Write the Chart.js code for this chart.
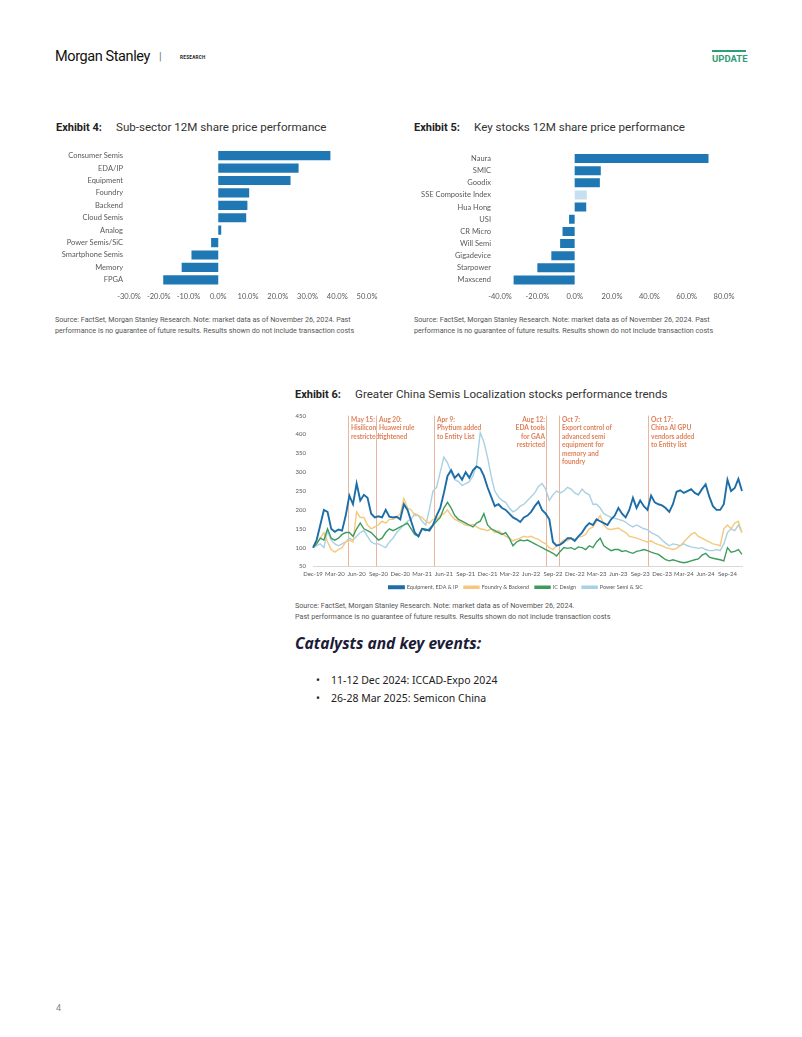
<!DOCTYPE html>
<html>
<head>
<meta charset="utf-8">
<script src="https://cdn.jsdelivr.net/npm/chart.js@4.4.0/dist/chart.umd.min.js"></script>
<style>
  body { margin: 0; background: #fff; width: 802px; height: 1037px; position: relative; overflow: hidden; font-family: Roboto, sans-serif; }
  .abs { position: absolute; white-space: nowrap; }
  .title { font-size: 11.6px; color: #333; line-height: 16px; }
  .title b { color: #222; font-size: 11px; }
  .src { font-size: 7.2px; color: #555; line-height: 10.5px; }
  canvas { position: absolute; }
</style>
</head>
<body>
<!-- header -->
<div class="abs" style="left:55px;top:48px;font-size:14.5px;color:#111;letter-spacing:-0.4px;">Morgan Stanley</div>
<div class="abs" style="left:159px;top:50px;font-size:11px;color:#777;">|</div>
<div class="abs" style="left:180px;top:55px;font-size:4.6px;font-weight:bold;letter-spacing:0.3px;color:#222;">RESEARCH</div>
<div class="abs" style="left:712px;top:50px;width:34px;height:2px;background:#2f9e74;"></div>
<div class="abs" style="left:712px;top:53px;font-size:9.5px;font-weight:bold;color:#2f9e74;">UPDATE</div>

<!-- exhibit 4 -->
<div class="abs title" style="left:56px;top:119px;"><b>Exhibit 4:</b></div>
<div class="abs title" style="left:116px;top:119px;">Sub-sector 12M share price performance</div>
<canvas id="ex4" width="330" height="172" style="left:55px;top:139px;"></canvas>
<div class="abs src" style="left:55px;top:315px;">Source: FactSet, Morgan Stanley Research. Note: market data as of November 26, 2024. Past<br>performance is no guarantee of future results. Results shown do not include transaction costs</div>

<!-- exhibit 5 -->
<div class="abs title" style="left:414px;top:119px;"><b>Exhibit 5:</b></div>
<div class="abs title" style="left:474px;top:119px;">Key stocks 12M share price performance</div>
<canvas id="ex5" width="335" height="172" style="left:414px;top:139px;"></canvas>
<div class="abs src" style="left:414px;top:315px;">Source: FactSet, Morgan Stanley Research. Note: market data as of November 26, 2024. Past<br>performance is no guarantee of future results. Results shown do not include transaction costs</div>

<!-- exhibit 6 -->
<div class="abs title" style="left:295px;top:386px;"><b>Exhibit 6:</b></div>
<div class="abs title" style="left:355px;top:386px;">Greater China Semis Localization stocks performance trends</div>
<canvas id="ex6" width="470" height="195" style="left:290px;top:405px;"></canvas>
<div class="abs src" style="left:295px;top:601px;">Source: FactSet, Morgan Stanley Research. Note: market data as of November 26, 2024.<br>Past performance is no guarantee of future results. Results shown do not include transaction costs</div>

<!-- catalysts -->
<div class="abs" style="left:295px;top:632px;font-family:'Noto Sans';font-weight:bold;font-style:italic;font-size:15.6px;color:#1c1c38;">Catalysts and key events:</div>
<div class="abs" style="left:316px;top:673px;font-family:'Noto Sans';font-size:10.5px;color:#222;">•</div>
<div class="abs" style="left:331px;top:673px;font-family:'Noto Sans';font-size:10.5px;color:#222;">11-12 Dec 2024: ICCAD-Expo 2024</div>
<div class="abs" style="left:316px;top:691px;font-family:'Noto Sans';font-size:10.5px;color:#222;">•</div>
<div class="abs" style="left:331px;top:691px;font-family:'Noto Sans';font-size:10.5px;color:#222;">26-28 Mar 2025: Semicon China</div>

<div class="abs" style="left:56px;top:1003px;font-size:9px;color:#888;">4</div>

<script>
// Exhibit 4 data
const subSectors = ['Consumer Semis', 'EDA/IP', 'Equipment', 'Foundry', 'Backend', 'Cloud Semis', 'Analog', 'Power Semis/SiC', 'Smartphone Semis', 'Memory', 'FPGA']
const subSectorPerf = [37.7, 27.0, 24.3, 10.4, 9.8, 9.4, 1.0, -2.4, -9.0, -12.3, -18.5]

// Exhibit 5 data
const keyStocks = ['Naura', 'SMIC', 'Goodix', 'SSE Composite Index', 'Hua Hong', 'USI', 'CR Micro', 'Will Semi', 'Gigadevice', 'Starpower', 'Maxscend']
const keyStockPerf = [71.7, 14.0, 13.5, 6.5, 6.2, -3.0, -6.5, -7.8, -12.5, -20.0, -32.7]

// Exhibit 6 data (half-monthly, Dec-19 = 100)
const quarterLabels = ['Dec-19', 'Mar-20', 'Jun-20', 'Sep-20', 'Dec-20', 'Mar-21', 'Jun-21', 'Sep-21', 'Dec-21', 'Mar-22', 'Jun-22', 'Sep-22', 'Dec-22', 'Mar-23', 'Jun-23', 'Sep-23', 'Dec-23', 'Mar-24', 'Jun-24', 'Sep-24']
const equipment = [100, 120, 160, 200, 195, 150, 142, 148, 145, 185,
  238, 215, 270, 225, 240, 232, 190, 180, 183, 180,
  200, 182, 180, 182, 175, 215, 200, 170, 140, 130,
  150, 148, 145, 160, 185, 205, 245, 290, 305, 285,
  295, 280, 300, 285, 305, 315, 310, 290, 260, 235,
  210, 215, 205, 200, 190, 180, 175, 168, 180, 185,
  195, 210, 222, 200, 190, 175, 115, 105, 108, 115,
  125, 125, 118, 130, 140, 155, 165, 160, 175, 170,
  165, 160, 175, 185, 205, 190, 180, 200, 232, 205,
  225, 210, 200, 238, 220, 215, 212, 205, 195, 215,
  248, 252, 245, 250, 255, 245, 240, 255, 268, 235,
  210, 200, 200, 215, 280, 250, 258, 282, 250]
const foundry = [100, 110, 125, 140, 115, 95, 88, 95, 100, 115,
  120, 115, 195, 180, 180, 160, 150, 155, 160, 170,
  165, 175, 175, 180, 190, 230, 205, 200, 185, 185,
  180, 170, 165, 175, 175, 185, 190, 200, 185, 175,
  170, 165, 160, 158, 162, 155, 150, 148, 145, 150,
  140, 145, 138, 130, 125, 118, 122, 125, 130, 128,
  130, 125, 122, 115, 110, 100, 95, 105, 112, 120,
  118, 125, 122, 128, 130, 135, 150, 155, 170, 185,
  160, 150, 148, 150, 152, 145, 140, 130, 128, 125,
  122, 118, 115, 118, 112, 108, 105, 100, 98, 95,
  98, 105, 115, 125, 135, 140, 130, 125, 120, 115,
  110, 108, 105, 150, 160, 150, 165, 170, 140]
const icDesign = [100, 110, 125, 120, 150, 125, 120, 125, 135, 140,
  140, 130, 150, 165, 150, 145, 140, 130, 120, 125,
  140, 150, 145, 150, 155, 160, 165, 150, 135, 130,
  150, 145, 150, 160, 170, 180, 205, 220, 205, 185,
  175, 170, 165, 160, 155, 165, 170, 190, 160, 150,
  145, 140, 135, 140, 125, 105, 115, 120, 118, 120,
  115, 110, 105, 100, 95, 90, 85, 78, 90, 100,
  98, 100, 95, 102, 100, 95, 105, 100, 115, 125,
  105, 98, 92, 95, 95, 90, 92, 88, 85, 90,
  92, 95, 92, 88, 85, 82, 75, 68, 65, 68,
  65, 62, 60, 62, 65, 68, 70, 80, 85, 75,
  72, 70, 68, 65, 100, 88, 90, 95, 82]
const powerSemi = [100, 105, 110, 100, 145, 120, 110, 105, 110, 115,
  125, 120, 130, 140, 145, 130, 115, 110, 110, 105,
  100, 115, 125, 140, 150, 160, 170, 175, 190, 185,
  170, 160, 200, 250, 260, 300, 340, 325, 300, 280,
  275, 265, 270, 275, 290, 320, 405, 380, 340, 290,
  250, 235, 225, 220, 205, 195, 200, 210, 215, 225,
  235, 245, 262, 270, 255, 225, 240, 250, 245, 250,
  260, 255, 245, 240, 255, 245, 240, 215, 215, 205,
  190, 185, 180, 178, 175, 172, 168, 160, 155, 160,
  155, 150, 148, 140, 135, 130, 120, 112, 105, 110,
  108, 105, 110, 105, 102, 100, 98, 100, 95, 92,
  92, 95, 92, 110, 140, 150, 145, 160, 140]

// policy events, positioned on the category axis
const eventAt = [9.7, 17.3, 33.3, 64.1, 67.8, 92.1]
const eventText = [
  ['May 15:', 'Hisilicon', 'restricted'],
  ['Aug 20:', 'Huawei rule', 'tightened'],
  ['Apr 9:', 'Phytium added', 'to Entity List'],
  ['Aug 12:', 'EDA tools', 'for GAA', 'restricted'],
  ['Oct 7:', 'Export control of', 'advanced semi', 'equipment for', 'memory and', 'foundry'],
  ['Oct 17:', 'China AI GPU', 'vendors added', 'to Entity list']
]
const eventTextLeft = [false, false, false, true, false, false]

const barBlue = '#1f78b4'
const tickFont = { family: 'Lato', size: 7.5 }

function barConfig(labels, values, colors, min, max, step, yWidth, labelPad, padRight) {
  return {
    type: 'bar',
    data: {
      labels: labels,
      datasets: [{ data: values, backgroundColor: colors, barPercentage: 0.74, categoryPercentage: 1 }]
    },
    options: {
      responsive: false,
      animation: false,
      indexAxis: 'y',
      layout: { padding: { top: 0, right: padRight, bottom: 4 } },
      plugins: { legend: { display: false }, tooltip: { enabled: false } },
      scales: {
        x: {
          min: min, max: max,
          grid: { display: false, drawTicks: false },
          border: { display: false },
          ticks: { stepSize: step, font: tickFont, color: '#595959', padding: 6, maxRotation: 0, autoSkip: false,
            callback: (v) => v.toFixed(1) + '%' }
        },
        y: {
          grid: { display: false, drawTicks: false },
          border: { display: false },
          ticks: { font: tickFont, color: '#595959', padding: labelPad, autoSkip: false },
          afterFit: (scale) => { scale.width = yWidth }
        }
      }
    }
  }
}

new Chart(document.getElementById('ex4'),
  barConfig(subSectors, subSectorPerf, barBlue, -30, 50, 10, 74, 6, 18))

const stockColors = keyStocks.map((s) => s === 'SSE Composite Index' ? '#c6e0f1' : barBlue)
new Chart(document.getElementById('ex5'),
  barConfig(keyStocks, keyStockPerf, stockColors, -40, 80, 20, 86, 9, 25))

// event lines and notes
const eventPlugin = {
  id: 'events',
  beforeDatasetsDraw(chart) {
    const ctx = chart.ctx
    const x = chart.scales.x
    const area = chart.chartArea
    ctx.save()
    ctx.font = 'bold 6.6px Lato'
    ctx.textBaseline = 'top'
    eventAt.forEach((at, i) => {
      const px = Math.round(x.getPixelForValue(at)) + 0.5
      ctx.strokeStyle = '#eab59f'
      ctx.lineWidth = 1
      ctx.beginPath()
      ctx.moveTo(px, area.top)
      ctx.lineTo(px, area.bottom)
      ctx.stroke()
      ctx.fillStyle = '#e0815a'
      ctx.textAlign = eventTextLeft[i] ? 'right' : 'left'
      const tx = eventTextLeft[i] ? px - 1.5 : px + 2.5
      eventText[i].forEach((line, j) => {
        ctx.fillText(line, tx, area.top + 1 + j * 8.4)
      })
    })
    ctx.restore()
  }
}

const pointLabels = equipment.map((v, i) => i)
const lineFont = { family: 'Lato', size: 6 }

function lineSet(label, values, color, width, order) {
  return { label: label, data: values, borderColor: color, backgroundColor: color, borderWidth: width, pointRadius: 0, tension: 0, order: order }
}

new Chart(document.getElementById('ex6'), {
  type: 'line',
  data: {
    labels: pointLabels,
    datasets: [
      lineSet('Equipment, EDA & IP', equipment, '#1d6ea8', 1.9, 0),
      lineSet('Foundry & Backend', foundry, '#f4c97d', 1.4, 2),
      lineSet('IC Design', icDesign, '#3c9c5e', 1.4, 1),
      lineSet('Power Semi & SiC', powerSemi, '#a9d0e3', 1.4, 3)
    ]
  },
  options: {
    responsive: false,
    animation: false,
    layout: { padding: { top: 9, right: 18, bottom: 0, left: 0 } },
    plugins: {
      tooltip: { enabled: false },
      legend: {
        position: 'bottom',
        labels: { font: { family: 'Lato', size: 5.5 }, color: '#595959', boxWidth: 15, boxHeight: 2, padding: 6,
          sort: (a, b) => a.datasetIndex - b.datasetIndex }
      }
    },
    scales: {
      x: {
        grid: { display: false, drawTicks: false },
        border: { display: true, color: '#d9d9d9' },
        ticks: {
          font: lineFont, color: '#595959', autoSkip: false, maxRotation: 0, padding: 4,
          callback: (v, i) => i % 6 === 0 ? (quarterLabels[i / 6] || '') : ''
        },
        afterFit: (scale) => { scale.height = 12 }
      },
      y: {
        min: 50, max: 450,
        grid: { display: false, drawTicks: false },
        border: { display: false },
        ticks: { stepSize: 50, font: lineFont, color: '#595959', padding: 7 },
        afterFit: (scale) => { scale.width = 23 }
      }
    }
  },
  plugins: [eventPlugin]
})
</script>
</body>
</html>
